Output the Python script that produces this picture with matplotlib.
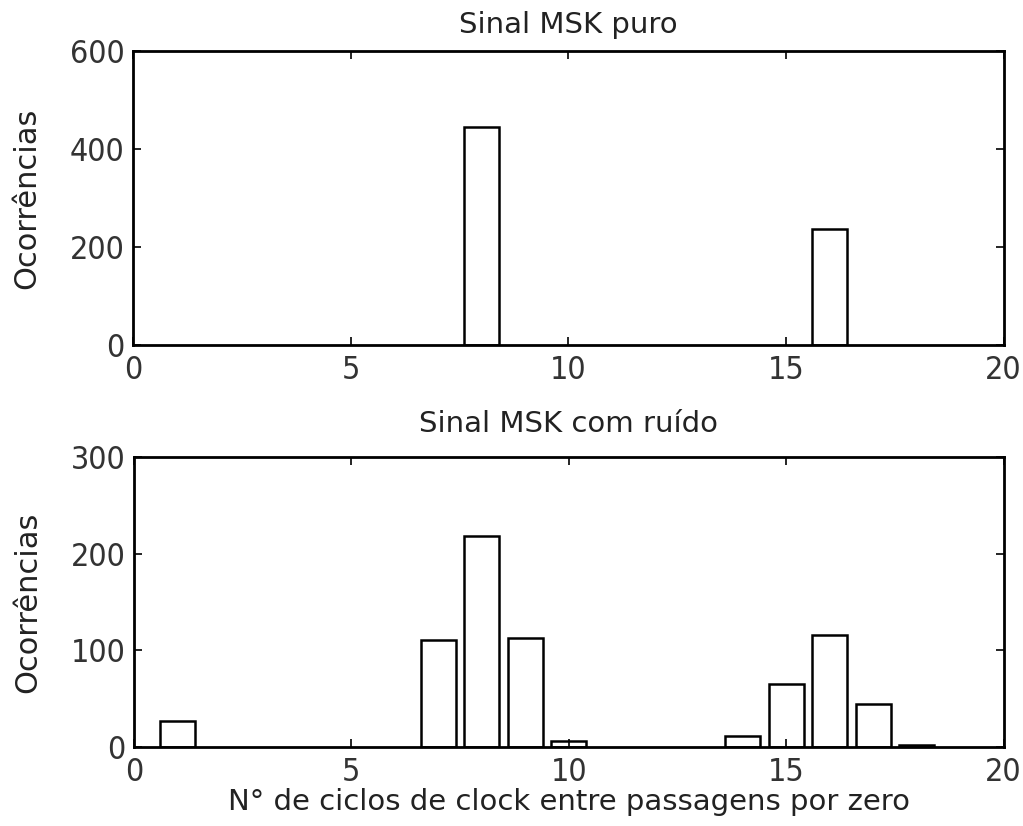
import matplotlib
matplotlib.use("Agg")
import matplotlib.pyplot as plt

# Histogram of clock cycles between zero crossings
bins_pure = [8, 16]
counts_pure = [446, 238]

bins_noisy = [1, 7, 8, 9, 10, 14, 15, 16, 17, 18]
counts_noisy = [27, 111, 218, 113, 6, 11, 65, 116, 45, 2]

xticks = [0, 5, 10, 15, 20]
yticks_pure = [0, 200, 400, 600]
yticks_noisy = [0, 100, 200, 300]

title_pure = "Sinal MSK puro"
title_noisy = "Sinal MSK com ruído"
ylabel = "Ocorrências"
xlabel = "N° de ciclos de clock entre passagens por zero"

plt.rcParams["font.family"] = ["DejaVu Sans"]

fig = plt.figure(figsize=(10.23, 8.26), dpi=100)
ax1 = fig.add_axes([0.130, 0.582, 0.851, 0.356])
ax2 = fig.add_axes([0.131, 0.0956, 0.850, 0.351])


def style(ax, yticks, title, title_pad):
    ax.set_xlim(0, 20)
    ax.set_ylim(yticks[0], yticks[-1])
    ax.set_xticks(xticks)
    ax.set_yticks(yticks)
    ax.tick_params(direction="in", length=6, width=1.2, top=True, right=True,
                   labelsize=23, colors="black", labelcolor="#333333")
    ax.tick_params(axis="x", pad=7)
    ax.tick_params(axis="y", pad=6)
    for lab in ax.get_xticklabels() + ax.get_yticklabels():
        lab.set_fontstretch("condensed")
        lab.set_fontweight("light")
    for s in ax.spines.values():
        s.set_linewidth(2.0)
    ax.set_title(title, fontsize=21, pad=title_pad, color="#222222")
    ax.set_ylabel(ylabel, fontsize=22, color="#222222")
    ax.yaxis.set_label_coords(-0.105, 0.5)


ax1.bar(bins_pure, counts_pure, width=0.8, facecolor="white",
        edgecolor="black", linewidth=1.8)
style(ax1, yticks_pure, title_pure, 13)

ax2.bar(bins_noisy, counts_noisy, width=0.8, facecolor="white",
        edgecolor="black", linewidth=1.8)
style(ax2, yticks_noisy, title_noisy, 18)
ax2.set_xlabel(xlabel, fontsize=21, labelpad=0, color="#222222")

fig.savefig("out.png", dpi=100)
